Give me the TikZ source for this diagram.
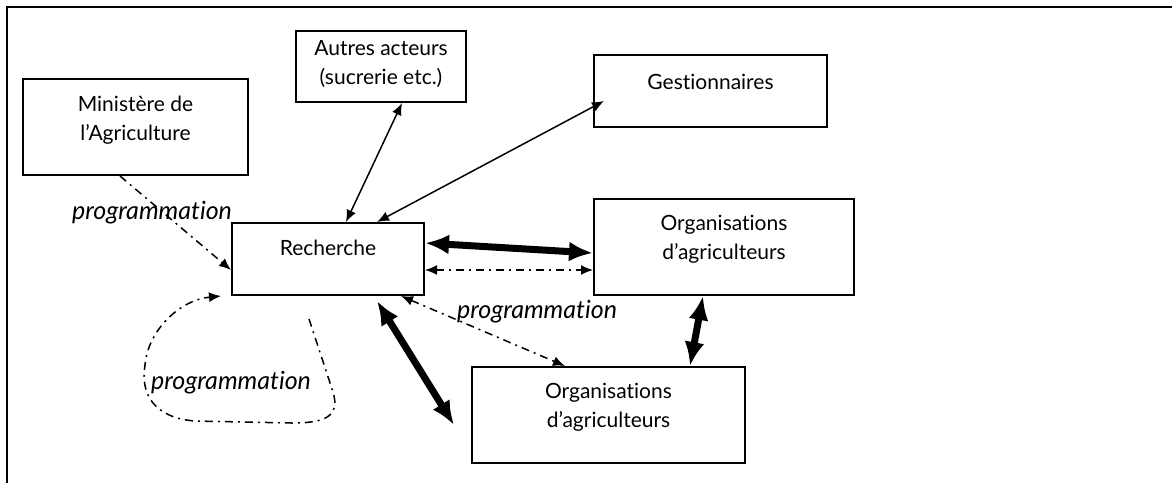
\documentclass[tikz,border=0pt]{standalone}
\usepackage{fontspec}
\setmainfont{Lato}[Ligatures=NoCommon]
\usetikzlibrary{arrows.meta}

\begin{document}
\begin{tikzpicture}[x=0.5pt, y=-0.5pt, font=\fontsize{10.5pt}{14.5pt}\selectfont,
    box/.style={draw, line width=1pt, minimum width=#1, inner sep=0pt},
    lbl/.style={align=center, inner sep=0pt},
    prog/.style={inner sep=0pt, font=\fontsize{12.5pt}{14.5pt}\selectfont\itshape},
    thin/.style={line width=0.75pt, {Latex[length=6pt,width=5pt]}-{Latex[length=6pt,width=5pt]}},
    thick/.style={line width=3.5pt, {Latex[length=12pt,width=10pt]}-{Latex[length=12pt,width=10pt]}},
    dd/.style={line width=0.75pt, dash pattern=on 4pt off 2.5pt on 1pt off 2.5pt},
    ddtip/.style={-{Latex[length=6pt,width=5pt]}}]
    \useasboundingbox (0,0) rectangle (1172,483);
    \draw[line width=1pt] (1172,7) -- (7,7) -- (7,483);

    \node[box=112.5pt, minimum height=48pt] (mini) at (135.5,127) {};
    \node[lbl] at ([yshift=3.5pt]mini.center) {Ministère de\\l’Agriculture};

    \node[box=85pt, minimum height=35.5pt] (autres) at (381,66.5) {};
    \node[lbl] at ([yshift=1pt]autres.center) {Autres acteurs\\(sucrerie etc.)};

    \node[box=116.5pt, minimum height=36pt] (gest) at (710.5,91) {};
    \node[lbl] at ([yshift=4.5pt]gest.center) {Gestionnaires};

    \node[box=96pt, minimum height=36pt] (rech) at (328,259) {};
    \node[lbl] at ([yshift=5.5pt]rech.center) {Recherche};

    \node[box=130pt, minimum height=48pt] (orgA) at (724,247) {};
    \node[lbl] at ([yshift=4pt]orgA.center) {Organisations\\d’agriculteurs};

    \node[box=136.5pt, minimum height=48pt] (orgB) at (608.5,415) {};
    \node[lbl] at ([yshift=4pt]orgB.center) {Organisations\\d’agriculteurs};

    \draw[thin] ([xshift=10.5pt]autres.south) -- ([xshift=9pt]rech.north);
    \draw[thin] ([xshift=5.5pt,yshift=-5pt]gest.west) -- ([xshift=24.5pt]rech.north);
    \draw[thick] ([yshift=8pt]rech.east) -- ([yshift=-3pt]orgA.west);
    \draw[thick] ([xshift=24.5pt,yshift=-2.5pt]rech.south) -- ([xshift=-8.5pt,yshift=-5pt]orgB.west);
    \draw[thick] ([xshift=-10.5pt]orgA.south) -- ([xshift=40.75pt]orgB.north);

    \draw[dd, {Latex[length=6pt,width=5pt]}-{Latex[length=6pt,width=5pt]}] ([yshift=-5.5pt]rech.east) -- ([yshift=-11.5pt]orgA.west);
    \draw[dd, {Latex[length=6pt,width=5pt]}-{Latex[length=6pt,width=5pt]}] ([xshift=-12pt]rech.south east) -- ([xshift=-21.75pt]orgB.north);
    \draw[dd, ddtip] ([xshift=-7.75pt]mini.south) -- ([yshift=-5.5pt]rech.west);
    \draw[dd, ddtip] ([xshift=-9.5pt,yshift=-11.5pt]rech.south) -- (333,392)
        .. controls (341,418) and (322,423) .. (292,423) -- (195,421)
        .. controls (155,418) and (140,395) .. (145,365)
        .. controls (148,330) and (180,300) .. ([xshift=-5pt]rech.south west);

    \node[prog] (prog1) at (152,213) {programmation};
    \node[prog] (prog2) at (537,312) {programmation};
    \node[prog] (prog3) at (231,383) {programmation};
\end{tikzpicture}
\end{document}
